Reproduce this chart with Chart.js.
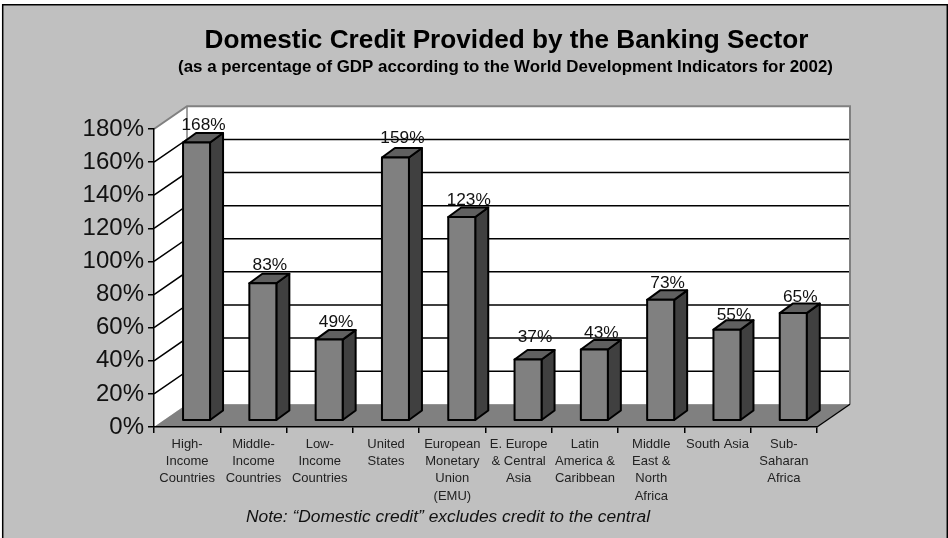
<!DOCTYPE html>
<html>
<head>
<meta charset="utf-8">
<title>Domestic Credit</title>
<script src="https://cdn.jsdelivr.net/npm/chart.js@4/dist/chart.umd.min.js"></script>
<style>
	html, body { margin: 0; background: #fff; }
	canvas { display: block; }
</style>
</head>
<body>
<canvas id="creditChart" width="948" height="538"></canvas>
<script>
const categories = [
	['High-', 'Income', 'Countries'],
	['Middle-', 'Income', 'Countries'],
	['Low-', 'Income', 'Countries'],
	['United', 'States'],
	['European', 'Monetary', 'Union', '(EMU)'],
	['E. Europe', '& Central', 'Asia'],
	['Latin', 'America &', 'Caribbean'],
	['Middle', 'East &', 'North', 'Africa'],
	['South Asia'],
	['Sub-', 'Saharan', 'Africa']
];
const creditShare = [168, 83, 49, 159, 123, 37, 43, 73, 55, 65];
const yMax = 180;
const yStep = 20;
const titleText = 'Domestic Credit Provided by the Banking Sector';
const subtitleText = '(as a percentage of GDP according to the World Development Indicators for 2002)';
const noteText = 'Note: \u201CDomestic credit\u201D excludes credit to the central';

const FONT = '"Liberation Sans", Arial, sans-serif';
// fake 3D: how far the back wall sits from the axes, and where the bars stand in that depth
const WALL_DX = 33, WALL_DY = -22.7;
const BAR_DX = 9.4, BAR_DY = -6.3;
const SIDE_DX = 13, SIDE_DY = -9.5;

function poly(ctx, pts, fill, stroke, lineWidth) {
	ctx.beginPath();
	pts.forEach((p, i) => i ? ctx.lineTo(p[0], p[1]) : ctx.moveTo(p[0], p[1]));
	ctx.closePath();
	if (fill) {
		ctx.fillStyle = fill;
		ctx.fill();
	}
	if (stroke) {
		ctx.strokeStyle = stroke;
		ctx.lineWidth = lineWidth;
		ctx.lineJoin = 'round';
		ctx.stroke();
	}
}

function line(ctx, pts, color, lineWidth) {
	ctx.beginPath();
	pts.forEach((p, i) => i ? ctx.lineTo(p[0], p[1]) : ctx.moveTo(p[0], p[1]));
	ctx.strokeStyle = color;
	ctx.lineWidth = lineWidth;
	ctx.stroke();
}

// frame, walls and floor go under everything the chart draws itself
const roomPlugin = {
	id: 'room',
	beforeDraw(chart) {
		const { ctx, chartArea: a, scales: { y } } = chart;
		ctx.save();
		ctx.fillStyle = '#c0c0c0';
		ctx.fillRect(3, 5, 944, 533);
		line(ctx, [[2.7, 538], [2.7, 4.7], [947.3, 4.7], [947.3, 538]], '#000', 1.5);

		const top = a.top, bot = a.bottom, l = a.left, r = a.right;
		poly(ctx, [[l + WALL_DX, top + WALL_DY], [r + WALL_DX, top + WALL_DY], [r + WALL_DX, bot + WALL_DY], [l + WALL_DX, bot + WALL_DY]], '#fff');
		poly(ctx, [[l, top], [l + WALL_DX, top + WALL_DY], [l + WALL_DX, bot + WALL_DY], [l, bot]], '#fff');

		for (let v = yStep; v < yMax; v += yStep) {
			const py = y.getPixelForValue(v);
			line(ctx, [[l, py], [l + WALL_DX, py + WALL_DY], [r + WALL_DX, py + WALL_DY]], '#000', 1.5);
		}

		line(ctx, [[l, top], [l + WALL_DX, top + WALL_DY], [r + WALL_DX, top + WALL_DY], [r + WALL_DX, bot + WALL_DY]], '#808080', 2);
		line(ctx, [[l + WALL_DX, top + WALL_DY], [l + WALL_DX, bot + WALL_DY]], '#808080', 1.5);

		poly(ctx, [[l, bot], [l + WALL_DX, bot + WALL_DY], [r + WALL_DX, bot + WALL_DY], [r, bot]], '#808080');
		line(ctx, [[r, bot], [r + WALL_DX, bot + WALL_DY]], '#000', 1.3);
		ctx.restore();
	}
};

// gap between each value label and the top of its bar, they don't all sit at the same height
const labelGaps = [3, 4, 3.5, 4.5, 3, 8, 2, 2, 0, 1.5];

// bars are the library's own elements, shifted into the room, with side and top faces added
const barDepthPlugin = {
	id: 'barDepth',
	beforeDatasetDraw(chart, args) {
		const ctx = chart.ctx;
		ctx.save();
		ctx.translate(BAR_DX, BAR_DY);
		args.meta.data.forEach((bar) => {
			const left = bar.x - bar.width / 2, right = bar.x + bar.width / 2;
			poly(ctx, [[right, bar.y], [right + SIDE_DX, bar.y + SIDE_DY], [right + SIDE_DX, bar.base + SIDE_DY], [right, bar.base]], '#404040', '#000', 2);
			poly(ctx, [[left, bar.y], [left + SIDE_DX, bar.y + SIDE_DY], [right + SIDE_DX, bar.y + SIDE_DY], [right, bar.y]], '#606060', '#000', 2);
		});
	},
	afterDatasetDraw(chart, args) {
		const ctx = chart.ctx;
		// outline sits on the bar's edge, the library would draw it inside
		args.meta.data.forEach((bar) => {
			const left = bar.x - bar.width / 2, right = bar.x + bar.width / 2;
			poly(ctx, [[left, bar.y], [right, bar.y], [right, bar.base], [left, bar.base]], null, '#000', 2);
		});
		ctx.restore();
	},
	afterDatasetsDraw(chart) {
		const ctx = chart.ctx;
		ctx.save();
		ctx.font = '17.3px ' + FONT;
		ctx.fillStyle = '#111';
		ctx.textAlign = 'center';
		ctx.textBaseline = 'alphabetic';
		chart.getDatasetMeta(0).data.forEach((bar, i) => {
			ctx.fillText(creditShare[i] + '%', bar.x + BAR_DX + SIDE_DX / 2 + 0.5, bar.y + BAR_DY + SIDE_DY - labelGaps[i]);
		});
		ctx.restore();
	}
};

const headingPlugin = {
	id: 'heading',
	afterDraw(chart) {
		const ctx = chart.ctx;
		ctx.save();
		ctx.textAlign = 'center';
		ctx.textBaseline = 'alphabetic';
		ctx.fillStyle = '#000';
		ctx.font = 'bold 26.2px ' + FONT;
		ctx.fillText(titleText, 506.5, 48);
		ctx.font = 'bold 16.9px ' + FONT;
		ctx.fillText(subtitleText, 505.5, 72);
		ctx.fillStyle = '#111';
		ctx.font = 'italic 17.4px ' + FONT;
		ctx.fillText(noteText, 448, 521.5);
		ctx.restore();
	}
};

new Chart(document.getElementById('creditChart'), {
	type: 'bar',
	data: {
		labels: categories,
		datasets: [{
			data: creditShare,
			backgroundColor: '#808080',
			borderWidth: 0,
			barThickness: 27,
			clip: false
		}]
	},
	plugins: [roomPlugin, barDepthPlugin, headingPlugin],
	options: {
		responsive: false,
		animation: false,
		layout: { padding: { left: 0, right: 131, top: 129, bottom: 0 } },
		plugins: { legend: { display: false }, tooltip: { enabled: false } },
		scales: {
			x: {
				afterFit: (s) => { s.height = 111; },
				grid: { drawOnChartArea: false, color: '#000', tickLength: 6, lineWidth: 1.5 },
				border: { color: '#000', width: 1.5 },
				ticks: {
					autoSkip: false,
					maxRotation: 0,
					color: '#222',
					padding: 3,
					font: { family: FONT, size: 13, lineHeight: 1.32 }
				}
			},
			y: {
				min: 0,
				max: yMax,
				afterFit: (s) => { s.width = 154; },
				grid: { drawOnChartArea: false, color: '#000', tickLength: 6, lineWidth: 1.5 },
				border: { color: '#000', width: 1.5 },
				ticks: {
					stepSize: yStep,
					color: '#111',
					padding: 4,
					font: { family: FONT, size: 24 },
					callback: (v) => v + '%'
				}
			}
		}
	}
});
</script>
</body>
</html>
